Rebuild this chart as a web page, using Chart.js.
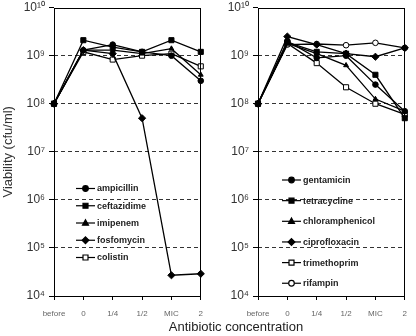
<!DOCTYPE html>
<html>
<head>
<meta charset="utf-8">
<script src="https://cdn.jsdelivr.net/npm/chart.js@4/dist/chart.umd.min.js"></script>
<style>
    body { margin: 0; background: #fff; }
    #wrap { position: relative; width: 416px; height: 336px; overflow: hidden; }
    canvas { position: absolute; top: 0; }
    #xtitle { position: absolute; top: 319px; left: 136px; width: 200px; text-align: center;
        font: 13px "Liberation Sans", Arial, sans-serif; color: #222; white-space: nowrap; }
</style>
</head>
<body>
<div id="wrap">
    <canvas id="left" width="212" height="336" style="left:0"></canvas>
    <canvas id="right" width="204" height="336" style="left:212px"></canvas>
    <div id="xtitle">Antibiotic concentration</div>
</div>
<script>
var concentrations = ["before", "0", "1/4", "1/2", "MIC", "2"];
var yTicks = [1e4, 1e5, 1e6, 1e7, 1e8, 1e9, 1e10];

// left panel
var ampicillin  = [1e8, 1.3e9, 1.7e9, 1.2e9, 1.0e9, 3.0e8];
var ceftazidime = [1e8, 2.1e9, 1.5e9, 1.2e9, 2.1e9, 1.2e9];
var imipenem    = [1e8, 1.3e9, 1.3e9, 1.1e9, 1.4e9, 4.0e8];
var fosfomycin  = [1e8, 1.3e9, 1.1e9, 5.0e7, 2.7e4, 2.9e4];
var colistin    = [1e8, 1.2e9, 8.3e8, 1.0e9, 1.1e9, 6.0e8];

// right panel
var gentamicin      = [1e8, 2.0e9, 9.0e8, 1.0e9, 2.5e8, 7.0e7];
var tetracycline    = [1e8, 1.9e9, 1.2e9, 1.1e9, 4.0e8, 5.0e7];
var chloramphenicol = [1e8, 1.8e9, 1.1e9, 6.3e8, 1.25e8, 7.0e7];
var ciprofloxacin   = [1e8, 2.5e9, 1.7e9, 1.1e9, 9.5e8, 1.45e9];
var trimethoprim    = [1e8, 1.8e9, 7.0e8, 2.2e8, 1.0e8, 6.0e7];
var rifampin        = [1e8, 1.7e9, 1.75e9, 1.65e9, 1.85e9, 1.45e9];

var sup = "⁰¹²³⁴⁵⁶⁷⁸⁹";
function power(v) {
    var e = Math.round(Math.log10(v));
    return "10" + String(e).split("").map(function (c) { return sup[+c]; }).join("");
}

function series(label, data, style, open) {
    return {
        label: label,
        data: data,
        borderColor: "#000",
        borderWidth: 1.3,
        pointStyle: style,
        pointRadius: style === "rect" ? 3.6 : (style === "rectRot" ? 3.6 : 2.8),
        pointBorderWidth: 1,
        pointBorderColor: "#000",
        pointBackgroundColor: open ? "#fff" : "#000",
        tension: 0
    };
}

// box round the plot area
var boxPlugin = {
    id: "box",
    afterDraw: function (chart) {
        var a = chart.chartArea, ctx = chart.ctx;
        ctx.save();
        ctx.strokeStyle = "#000";
        ctx.lineWidth = 1;
        ctx.strokeRect(Math.round(a.left) + 0.5, Math.round(a.top) + 0.5,
            Math.round(a.right - a.left) - 1, Math.round(a.bottom - a.top));
        ctx.restore();
    }
};

// legend: short line with marker and label
function marker(ctx, style, x, y, open) {
    ctx.beginPath();
    if (style === "circle") {
        ctx.arc(x, y, 2.8, 0, Math.PI * 2);
    } else if (style === "rect") {
        ctx.rect(x - 2.5, y - 2.5, 5, 5);
    } else if (style === "triangle") {
        ctx.moveTo(x, y - 3.2);
        ctx.lineTo(x + 3, y + 2.2);
        ctx.lineTo(x - 3, y + 2.2);
        ctx.closePath();
    } else {
        ctx.moveTo(x, y - 3.4);
        ctx.lineTo(x + 3.4, y);
        ctx.lineTo(x, y + 3.4);
        ctx.lineTo(x - 3.4, y);
        ctx.closePath();
    }
    ctx.fillStyle = open ? "#fff" : "#000";
    ctx.fill();
    ctx.stroke();
}

var legendPlugin = {
    id: "lineLegend",
    afterDatasetsDraw: function (chart, args, opts) {
        var ctx = chart.ctx;
        ctx.save();
        ctx.strokeStyle = "#000";
        ctx.lineWidth = 1.2;
        ctx.font = "bold 9px 'Liberation Sans', Arial, sans-serif";
        ctx.textBaseline = "middle";
        chart.data.datasets.forEach(function (ds, i) {
            var y = opts.y + i * opts.step;
            ctx.beginPath();
            ctx.moveTo(opts.x, y);
            ctx.lineTo(opts.x + 19, y);
            ctx.stroke();
            marker(ctx, ds.pointStyle, opts.x + 9.5, y, ds.pointBackgroundColor === "#fff");
            ctx.fillStyle = "#222";
            ctx.fillText(ds.label, opts.x + 21, y + 0.5);
        });
        ctx.restore();
    }
};

function makeChart(id, datasets, yWidth, legend, showTitle) {
    return new Chart(document.getElementById(id), {
        type: "line",
        data: { labels: concentrations, datasets: datasets },
        plugins: [boxPlugin, legendPlugin],
        options: {
            responsive: false,
            animation: false,
            devicePixelRatio: 1,
            layout: { padding: { top: 0, right: 2, bottom: 0, left: 0 } },
            plugins: {
                legend: { display: false },
                tooltip: { enabled: false },
                lineLegend: legend
            },
            scales: {
                x: {
                    type: "category",
                    offset: false,
                    grid: { drawOnChartArea: false, drawTicks: true, tickLength: 4, tickColor: "#000" },
                    border: { display: false },
                    ticks: {
                        color: "#666",
                        padding: 9,
                        maxRotation: 0,
                        autoSkip: false,
                        font: { family: "'Liberation Sans', Arial, sans-serif", size: 8 }
                    },
                    afterFit: function (s) { s.height = 40; }
                },
                y: {
                    type: "logarithmic",
                    min: 1e4,
                    max: 1e10,
                    afterBuildTicks: function (s) {
                        s.ticks = yTicks.map(function (v) { return { value: v }; });
                    },
                    afterFit: function (s) { s.width = yWidth; },
                    border: { display: false, dash: [4, 3] },
                    grid: {
                        color: function (c) {
                            var v = c.tick && c.tick.value;
                            return (v === 1e4 || v === 1e10) ? "rgba(0,0,0,0)" : "#333";
                        },
                        lineWidth: 1,
                        tickLength: 5,
                        tickColor: "#000",
                        tickBorderDash: []
                    },
                    ticks: {
                        color: "#333",
                        padding: 4,
                        font: { family: "'Liberation Sans', Arial, sans-serif", size: 12, lineHeight: 0.6 },
                        callback: function (v) { return power(v); }
                    },
                    title: {
                        display: showTitle,
                        text: "Viability (cfu/ml)",
                        color: "#333",
                        font: { family: "'Liberation Sans', Arial, sans-serif", size: 13 },
                        padding: { top: 1, bottom: 0 }
                    }
                }
            }
        }
    });
}

makeChart("left", [
    series("ampicillin", ampicillin, "circle", false),
    series("ceftazidime", ceftazidime, "rect", false),
    series("imipenem", imipenem, "triangle", false),
    series("fosfomycin", fosfomycin, "rectRot", false),
    series("colistin", colistin, "rect", true)
], 54, { x: 76, y: 188.5, step: 17.25 }, true);

makeChart("right", [
    series("gentamicin", gentamicin, "circle", false),
    series("tetracycline", tetracycline, "rect", false),
    series("chloramphenicol", chloramphenicol, "triangle", false),
    series("ciprofloxacin", ciprofloxacin, "rectRot", false),
    series("trimethoprim", trimethoprim, "rect", true),
    series("rifampin", rifampin, "circle", true)
], 46, { x: 70, y: 180, step: 20.65 }, false);
</script>
</body>
</html>
